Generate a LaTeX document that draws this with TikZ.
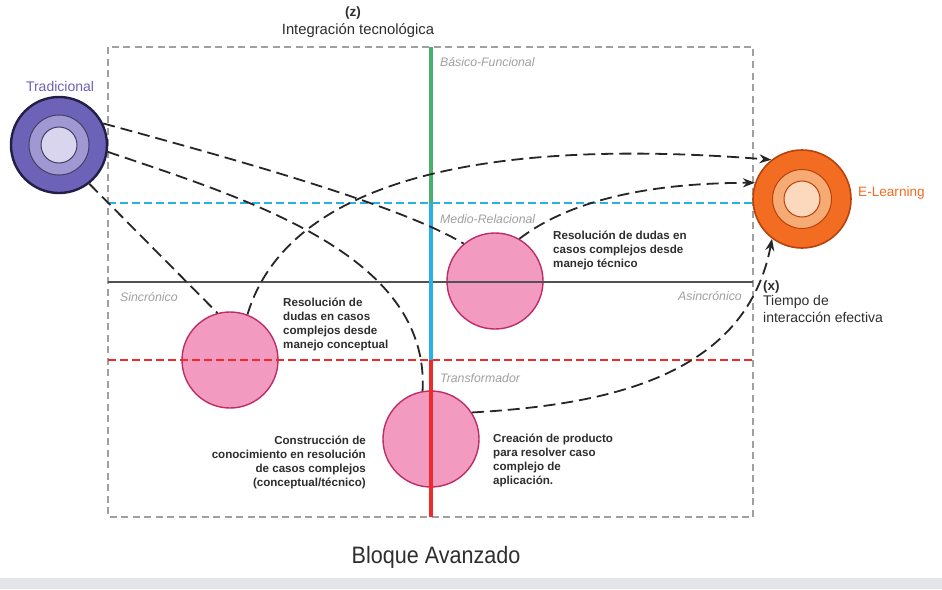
\documentclass[tikz,border=0pt]{standalone}
\usepackage{fontspec}
\setmainfont{Liberation Sans}
\newfontfamily\condfont[FakeStretch=0.91]{Liberation Sans}
\usetikzlibrary{arrows.meta}
\definecolor{tradA}{HTML}{6C62B8}
\definecolor{tradB}{HTML}{9F98D2}
\definecolor{tradC}{HTML}{D9D5EE}
\definecolor{tradE}{HTML}{221E45}
\definecolor{elA}{HTML}{F26C21}
\definecolor{elB}{HTML}{F6AA74}
\definecolor{elC}{HTML}{FCD9BC}
\definecolor{elE}{HTML}{B8420C}
\definecolor{pinkF}{HTML}{F39AC1}
\definecolor{pinkE}{HTML}{BE2D68}
\definecolor{greenL}{HTML}{4CAF6E}
\definecolor{blueL}{HTML}{29B0E6}
\definecolor{redL}{HTML}{EE2A2A}
\definecolor{grayT}{HTML}{A0A0A0}
\definecolor{txt}{HTML}{2E2E2E}
\definecolor{band}{HTML}{E4E5E8}
\begin{document}
\begin{tikzpicture}[x=1pt,y=-1pt,
  pinkcirc/.style={circle,draw=pinkE,line width=1.4pt,fill=pinkF,minimum size=96pt,inner sep=0pt},
  conn/.style={draw=black!85,line width=1.8pt,dash pattern=on 12pt off 6pt},
  arr/.style={conn,-{Stealth[length=12pt,width=9pt]}},
  lbl/.style={font=\fontsize{11.6}{14}\selectfont\bfseries,text=txt,inner sep=0pt},
  zone/.style={font=\fontsize{12.3}{14}\selectfont\itshape,text=grayT,inner sep=0pt},
  axis/.style={font=\fontsize{14}{17.5}\selectfont,text=txt,inner sep=0pt}]
\useasboundingbox (0,0) rectangle (942,589);
\fill[white] (0,0) rectangle (942,578);
\fill[band] (0,578) rectangle (942,589);
% pink circles (under the lines)
\node[pinkcirc] (A) at (495,281) {};
\node[pinkcirc] (B) at (230,360) {};
\node[pinkcirc] (C) at (431,439) {};
% frame
\draw[grayT,line width=1.1pt,dash pattern=on 7pt off 4.5pt] (108,47) rectangle (753,517);
% horizontal lines
\draw[blueL,line width=1.8pt,dash pattern=on 8pt off 4pt] (108,203) -- (753,203);
\draw[black!68,line width=2.8pt] (108,282) -- (753,282);
\draw[redL,line width=1.5pt,dash pattern=on 8pt off 4pt] (108,360) -- (753,360);
% vertical lines
\draw[greenL,line width=3.4pt] (431,47) -- (431,203);
\draw[blueL,line width=3.4pt] (431,203) -- (431,360);
\draw[redL,line width=3.4pt] (431,360) -- (431,517);
% zone labels
\node[zone,anchor=west] (zb) at (440,62) {Básico-Funcional};
\node[zone,anchor=west] (zm) at (440,219) {Medio-Relacional};
\node[zone,anchor=west] (zt) at (440,378) {Transformador};
\node[zone,anchor=west] (zs) at (120,297) {Sincrónico};
\node[zone,anchor=east] (za) at (742,296) {Asincrónico};
% axis labels
\node[axis,font=\fontsize{13.5}{16}\selectfont\bfseries] (zz) at (353,13) {(z)};
\node[axis,font=\fontsize{14.8}{17.5}\selectfont] (zlab) at (358,31) {Integración tecnológica};
\node[axis,anchor=west,font=\fontsize{13.5}{16}\selectfont\bfseries] (xx) at (763,287) {(x)};
\node[axis,anchor=north west,align=left] (xlab) at (763,295) {Tiempo de\\interacción efectiva};
% Tradicional
\node[circle,draw=tradE,line width=2.4pt,fill=tradA,minimum size=96pt,inner sep=0pt] (trad) at (59,145) {};
\node[circle,draw=tradE!85,line width=1pt,fill=tradB,minimum size=60pt,inner sep=0pt] (trad2) at (trad) {};
\node[circle,draw=tradE!85,line width=1pt,fill=tradC,minimum size=36pt,inner sep=0pt] (trad3) at (trad) {};
\node[font=\fontsize{14}{16}\selectfont,text=tradA,inner sep=0pt] (tradlab) at (60,86) {Tradicional};
% E-Learning
\node[circle,draw=elE,line width=1.6pt,fill=elA,minimum size=98pt,inner sep=0pt] (el) at (802,199) {};
\node[circle,draw=elE,line width=1pt,fill=elB,minimum size=59pt,inner sep=0pt] (el2) at (el) {};
\node[circle,draw=elE,line width=1pt,fill=elC,minimum size=36pt,inner sep=0pt] (el3) at (el) {};
\node[font=\fontsize{13.6}{16}\selectfont,text=elA,anchor=west,inner sep=0pt] (ellab) at (858,193) {E-Learning};
% texts
\node[lbl,anchor=north west,align=left] (tA) at (553,231) {Resolución de dudas en\\casos complejos desde\\manejo técnico};
\node[lbl,anchor=north west,align=left] (tB) at (283,298) {Resolución de\\dudas en casos\\complejos desde\\manejo conceptual};
\node[lbl,anchor=north east,align=right] (tC) at (366,436) {Construcción de\\conocimiento en resolución\\de casos complejos\\(conceptual/técnico)};
\node[lbl,anchor=north west,align=left] (tD) at (493,434) {Creación de producto\\para resolver caso\\complejo de\\aplicación.};
% connectors
\draw[conn] (trad.26) .. controls (230,158) and (400,205) .. (A.130);
\draw[conn] (trad.-8) .. controls (250,200) and (430,255) .. (C.100);
\draw[conn] (trad.-52) -- (B.105);
\draw[arr] (B.69) .. controls (285,190) and (460,135) .. (el.128);
\draw[arr] (A.60) .. controls (570,200) and (650,183) .. (el.161);
\draw[arr] (C.33) .. controls (600,405) and (745,380) .. (el.233);
% title
\node[font=\condfont\fontsize{23.7}{28}\selectfont,text=txt,inner sep=0pt] (title) at (436,557) {Bloque Avanzado};
\end{tikzpicture}
\end{document}
